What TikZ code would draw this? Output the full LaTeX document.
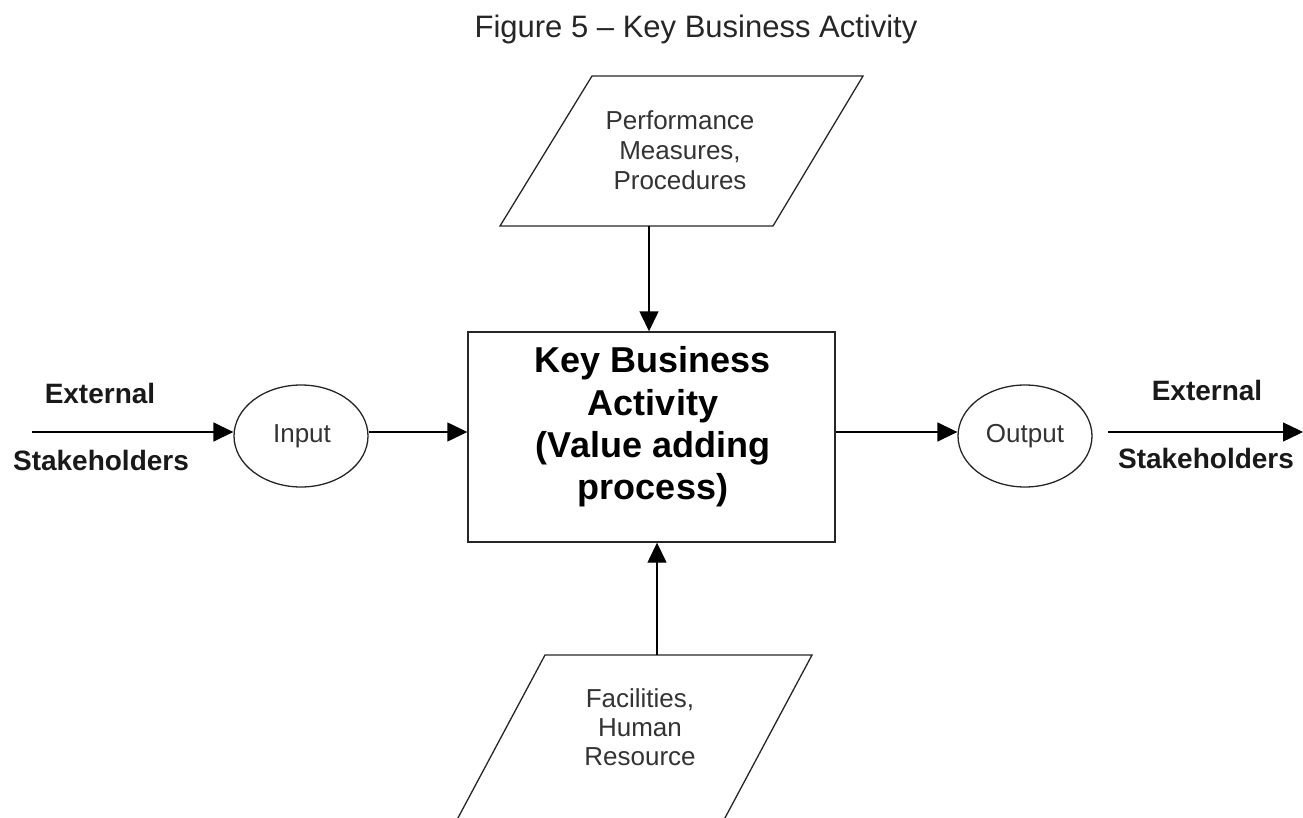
\documentclass[tikz,border=0pt]{standalone}
\usepackage{fontspec}
\setmainfont{Liberation Sans}
\usetikzlibrary{arrows.meta,shapes.geometric}
\begin{document}
\begin{tikzpicture}[x=1pt,y=-1pt,
  line width=1.4pt,
  arr/.style={-{Triangle[length=20pt,width=19pt]}},
  shapeline/.style={draw=black!85, line width=1.3pt},
  smalltext/.style={font=\fontsize{26}{30}\selectfont, align=center, text=black!80},
  boldtext/.style={font=\bfseries\fontsize{28}{32}\selectfont, text=black!90, anchor=base},
  oval/.style={ellipse, draw=black!85, line width=1.3pt, minimum width=134pt, minimum height=102pt, inner sep=0pt},
]
\useasboundingbox (0,0) rectangle (1303,818);
\clip (0,0) rectangle (1303,818);

% title
\node[font=\fontsize{31}{36}\selectfont, text=black!85, anchor=base] (title) at (696,38) {Figure 5 -- Key Business Activity};

% top parallelogram
\draw[shapeline] (592,76) -- (863,76) -- (773,226) -- (500,226) -- cycle;
\node[smalltext] (perf) at (680,150) {Performance\\Measures,\\Procedures};
\coordinate (perfS) at (649,226);

% main box
\node[draw=black!85, line width=1.4pt, minimum width=367pt, minimum height=210pt, inner sep=0pt] (kba) at (651.5,437) {};
\node[font=\bfseries\fontsize{36}{42.3}\selectfont, align=center] (kbatext) at (653,427) {Key Business\\Activity\\(Value adding\\process)};

% bottom parallelogram
\draw[shapeline] (545,655) -- (812,655) -- (702.5,860) -- (435.5,860) -- cycle;
\node[smalltext, font=\fontsize{26}{29}\selectfont] (fac) at (640,727) {Facilities,\\Human\\Resource};
\coordinate (facN) at (657,655);

% ellipses
\node[oval] (in) at (301,436) {};
\node[smalltext, anchor=base] at (302,442) {Input};
\node[oval] (out) at (1025,436) {};
\node[smalltext, anchor=base] at (1025,442) {Output};

% side labels
\node[boldtext] (ext1) at (100,403) {External};
\node[boldtext] (stk1) at (101,470) {Stakeholders};
\node[boldtext] (ext2) at (1207,400) {External};
\node[boldtext] (stk2) at (1206,468) {Stakeholders};

\coordinate (lstart) at (32,432);
\coordinate (rstart) at (1108,432);
\coordinate (rend) at (1303,432);

% connectors
\draw[arr] (lstart) -- (in.west |- lstart);
\draw[arr] (in.east |- lstart) -- (kba.west |- lstart);
\draw[arr] (kba.east |- lstart) -- (out.west |- lstart);
\draw[arr] (rstart) -- (rend);
\draw[arr] (perfS) -- (kba.north -| perfS);
\draw[arr] (facN) -- (kba.south -| facN);
\end{tikzpicture}
\end{document}
